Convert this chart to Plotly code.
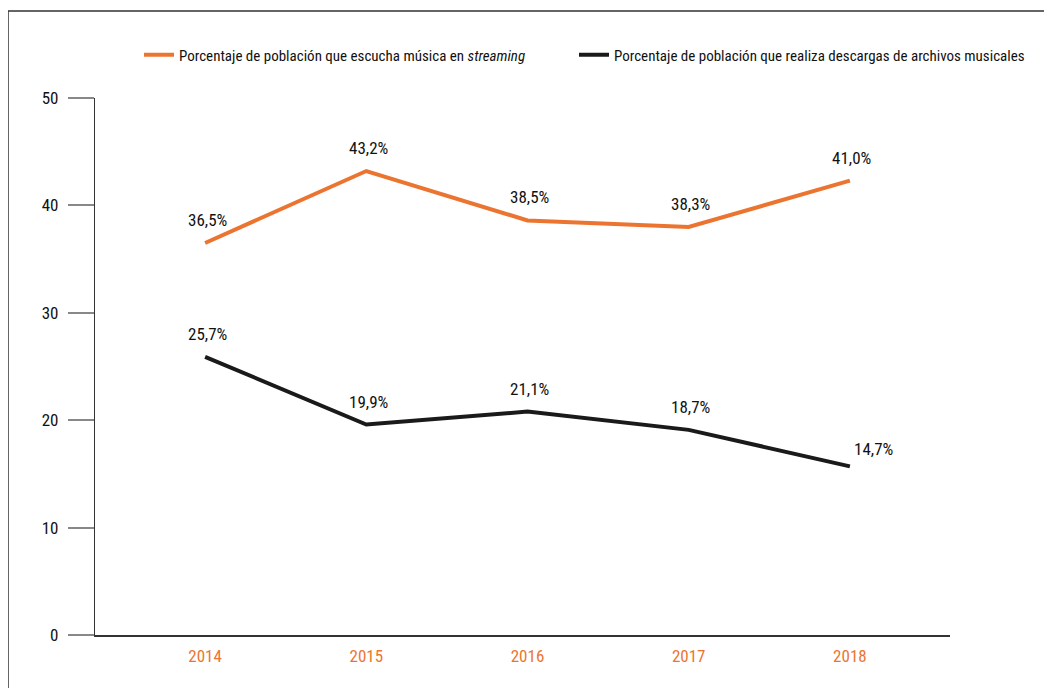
import plotly.graph_objects as go

years = [2014, 2015, 2016, 2017, 2018]
streaming = [36.5, 43.2, 38.6, 38.0, 42.3]
descargas = [25.9, 19.6, 20.8, 19.1, 15.7]
streaming_labels = ["36,5%", "43,2%", "38,5%", "38,3%", "41,0%"]
descargas_labels = ["25,7%", "19,9%", "21,1%", "18,7%", "14,7%"]
y_ticks = [0, 10, 20, 30, 40, 50]

ORANGE = "#EB7530"
BLACK = "#1a1a1a"
FONT = "Roboto Condensed, Liberation Sans Narrow, Arial Narrow, sans-serif"
WEIGHT = 400

# page body has an 8px margin: figure is drawn 8px right/down of the window origin
OFF = 8
W, H = 1052 - OFF, 688 - OFF
L, T = 95 - OFF, 98 - OFF
PW, PH = 855, 537
R, B = W - L - PW, H - T - PH


def px(sx):
    return (sx - OFF - L) / PW


def py(sy):
    return (T + PH - (sy - OFF)) / PH


fig = go.Figure()
fig.add_trace(go.Scatter(
    x=years, y=streaming, mode="lines",
    name="Porcentaje de población que escucha música en <i>streaming</i>",
    line=dict(color=ORANGE, width=4), legend="legend"))
fig.add_trace(go.Scatter(
    x=years, y=descargas, mode="lines",
    name="Porcentaje de población que realiza descargas de archivos musicales",
    line=dict(color=BLACK, width=4), legend="legend2"))

lblfont = dict(family=FONT, size=17, color="#111111", weight=WEIGHT)
for x, y, t in zip(years, streaming, streaming_labels):
    fig.add_annotation(x=x, y=y, text=t, showarrow=False, xanchor="center",
                       yanchor="bottom", yshift=11, xshift=2, font=lblfont)
for i, (x, y, t) in enumerate(zip(years, descargas, descargas_labels)):
    last = i == len(years) - 1
    fig.add_annotation(x=x, y=y, text=t, showarrow=False,
                       xanchor="left" if last else "center",
                       yanchor="bottom", yshift=5 if last else 11,
                       xshift=2, font=lblfont)

fig.add_shape(type="rect", xref="paper", yref="paper",
              x0=px(8), x1=px(1050), y0=py(720), y1=py(11),
              line=dict(color="#333", width=1.5), fillcolor="rgba(0,0,0,0)")

legfont = dict(family=FONT, size=15, color="#111111", weight=WEIGHT)
fig.update_layout(
    width=W, height=H,
    margin=dict(l=L, r=R, t=T, b=B, pad=0),
    paper_bgcolor="white", plot_bgcolor="white",
    font=dict(family=FONT, size=17, color="#111111"),
    showlegend=True,
    legend=dict(orientation="h", x=px(139), y=py(55),
                xanchor="left", yanchor="middle", font=legfont, itemwidth=30,
                bgcolor="rgba(0,0,0,0)"),
    legend2=dict(orientation="h", x=px(574), y=py(55),
                 xanchor="left", yanchor="middle", font=legfont, itemwidth=30,
                 bgcolor="rgba(0,0,0,0)"),
    xaxis=dict(range=[2013.317, 2018.621], tickvals=years,
               ticktext=[str(y) for y in years], showgrid=False, zeroline=False,
               showline=True, linecolor="#333", linewidth=1.5, ticks="",
               ticklabelstandoff=5,
               tickfont=dict(family=FONT, size=17, color=ORANGE, weight=WEIGHT)),
    yaxis=dict(range=[0, 50], tickvals=y_ticks, showgrid=False, zeroline=False,
               showline=True, linecolor="#333", linewidth=1.2,
               ticks="outside", ticklen=26, tickcolor="#888", tickwidth=1.5,
               ticklabelstandoff=6,
               tickfont=dict(family=FONT, size=17, color="#111111", weight=WEIGHT)),
)

fig.write_html("out.html", config={"displayModeBar": False})
